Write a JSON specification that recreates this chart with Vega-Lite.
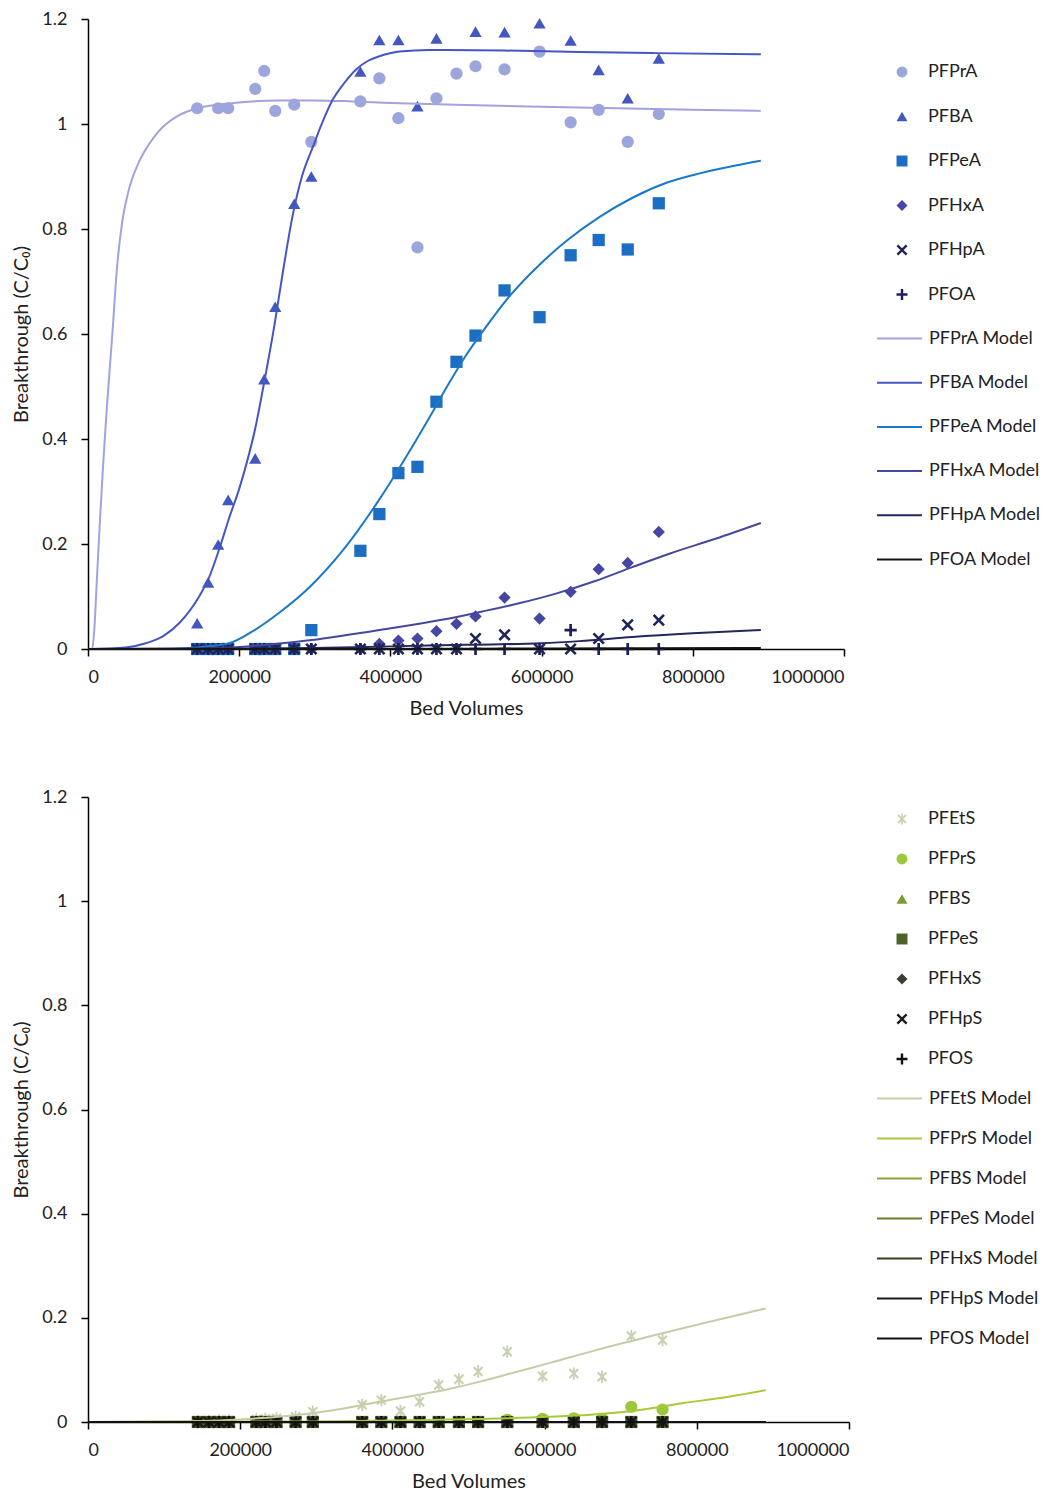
{
"$schema":"https://vega.github.io/schema/vega-lite/v6.json",
"background":"white",
"padding":{"left":11,"top":10,"right":5,"bottom":5},
"config":{"view":{"stroke":null},"font":"Lato",
"axis":{"domainColor":"#000","domainWidth":1.5,"tickColor":"#000","tickWidth":1.5,"tickSize":7,"grid":false,"labelFont":"Lato","labelFontSize":18,"labelColor":"#222","titleFont":"Lato","titleFontSize":20,"titleFontWeight":"normal","titleColor":"#222"},
"legend":{"labelFont":"Lato","labelFontSize":18,"labelColor":"#222","padding":0}},
"datasets":{
"pts":[
{"panel":"A","series":"PFPrA","bv":144400,"c":1.03},{"panel":"A","series":"PFPrA","bv":172200,"c":1.03},{"panel":"A","series":"PFPrA","bv":185400,"c":1.03},{"panel":"A","series":"PFPrA","bv":221200,"c":1.067},{"panel":"A","series":"PFPrA","bv":233100,"c":1.101},{"panel":"A","series":"PFPrA","bv":247700,"c":1.025},{"panel":"A","series":"PFPrA","bv":272800,"c":1.037},{"panel":"A","series":"PFPrA","bv":295400,"c":0.966},{"panel":"A","series":"PFPrA","bv":360300,"c":1.043},{"panel":"A","series":"PFPrA","bv":385400,"c":1.087},{"panel":"A","series":"PFPrA","bv":410600,"c":1.011},{"panel":"A","series":"PFPrA","bv":435800,"c":0.765},{"panel":"A","series":"PFPrA","bv":460900,"c":1.049},{"panel":"A","series":"PFPrA","bv":487400,"c":1.096},{"panel":"A","series":"PFPrA","bv":512600,"c":1.11},{"panel":"A","series":"PFPrA","bv":551000,"c":1.104},{"panel":"A","series":"PFPrA","bv":597300,"c":1.138},{"panel":"A","series":"PFPrA","bv":638400,"c":1.003},{"panel":"A","series":"PFPrA","bv":675500,"c":1.027},{"panel":"A","series":"PFPrA","bv":713900,"c":0.966},{"panel":"A","series":"PFPrA","bv":755000,"c":1.019},
{"panel":"A","series":"PFBA","bv":144400,"c":0.049},{"panel":"A","series":"PFBA","bv":158900,"c":0.127},{"panel":"A","series":"PFBA","bv":172200,"c":0.199},{"panel":"A","series":"PFBA","bv":185400,"c":0.284},{"panel":"A","series":"PFBA","bv":221200,"c":0.363},{"panel":"A","series":"PFBA","bv":233100,"c":0.514},{"panel":"A","series":"PFBA","bv":247700,"c":0.652},{"panel":"A","series":"PFBA","bv":272800,"c":0.848},{"panel":"A","series":"PFBA","bv":295400,"c":0.9},{"panel":"A","series":"PFBA","bv":360300,"c":1.1},{"panel":"A","series":"PFBA","bv":385400,"c":1.16},{"panel":"A","series":"PFBA","bv":410600,"c":1.16},{"panel":"A","series":"PFBA","bv":435800,"c":1.034},{"panel":"A","series":"PFBA","bv":460900,"c":1.163},{"panel":"A","series":"PFBA","bv":512600,"c":1.176},{"panel":"A","series":"PFBA","bv":551000,"c":1.175},{"panel":"A","series":"PFBA","bv":597300,"c":1.192},{"panel":"A","series":"PFBA","bv":638400,"c":1.159},{"panel":"A","series":"PFBA","bv":675500,"c":1.103},{"panel":"A","series":"PFBA","bv":713900,"c":1.049},{"panel":"A","series":"PFBA","bv":755000,"c":1.125},
{"panel":"A","series":"PFPeA","bv":144400,"c":0},{"panel":"A","series":"PFPeA","bv":158900,"c":0},{"panel":"A","series":"PFPeA","bv":172200,"c":0},{"panel":"A","series":"PFPeA","bv":185400,"c":0},{"panel":"A","series":"PFPeA","bv":221200,"c":0},{"panel":"A","series":"PFPeA","bv":233100,"c":0},{"panel":"A","series":"PFPeA","bv":247700,"c":0},{"panel":"A","series":"PFPeA","bv":272800,"c":0},{"panel":"A","series":"PFPeA","bv":295400,"c":0.036},{"panel":"A","series":"PFPeA","bv":360300,"c":0.187},{"panel":"A","series":"PFPeA","bv":385400,"c":0.257},{"panel":"A","series":"PFPeA","bv":410600,"c":0.335},{"panel":"A","series":"PFPeA","bv":435800,"c":0.347},{"panel":"A","series":"PFPeA","bv":460900,"c":0.471},{"panel":"A","series":"PFPeA","bv":487400,"c":0.547},{"panel":"A","series":"PFPeA","bv":512600,"c":0.597},{"panel":"A","series":"PFPeA","bv":551000,"c":0.683},{"panel":"A","series":"PFPeA","bv":597300,"c":0.632},{"panel":"A","series":"PFPeA","bv":638400,"c":0.75},{"panel":"A","series":"PFPeA","bv":675500,"c":0.779},{"panel":"A","series":"PFPeA","bv":713900,"c":0.761},{"panel":"A","series":"PFPeA","bv":755000,"c":0.849},
{"panel":"A","series":"PFHxA","bv":144400,"c":0},{"panel":"A","series":"PFHxA","bv":158900,"c":0},{"panel":"A","series":"PFHxA","bv":172200,"c":0},{"panel":"A","series":"PFHxA","bv":185400,"c":0},{"panel":"A","series":"PFHxA","bv":221200,"c":0},{"panel":"A","series":"PFHxA","bv":233100,"c":0},{"panel":"A","series":"PFHxA","bv":247700,"c":0},{"panel":"A","series":"PFHxA","bv":272800,"c":0},{"panel":"A","series":"PFHxA","bv":295400,"c":0},{"panel":"A","series":"PFHxA","bv":360300,"c":0},{"panel":"A","series":"PFHxA","bv":385400,"c":0.01},{"panel":"A","series":"PFHxA","bv":410600,"c":0.016},{"panel":"A","series":"PFHxA","bv":435800,"c":0.02},{"panel":"A","series":"PFHxA","bv":460900,"c":0.034},{"panel":"A","series":"PFHxA","bv":487400,"c":0.048},{"panel":"A","series":"PFHxA","bv":512600,"c":0.062},{"panel":"A","series":"PFHxA","bv":551000,"c":0.098},{"panel":"A","series":"PFHxA","bv":597300,"c":0.058},{"panel":"A","series":"PFHxA","bv":638400,"c":0.109},{"panel":"A","series":"PFHxA","bv":675500,"c":0.152},{"panel":"A","series":"PFHxA","bv":713900,"c":0.164},{"panel":"A","series":"PFHxA","bv":755000,"c":0.223},
{"panel":"A","series":"PFHpA","bv":144400,"c":0},{"panel":"A","series":"PFHpA","bv":158900,"c":0},{"panel":"A","series":"PFHpA","bv":172200,"c":0},{"panel":"A","series":"PFHpA","bv":185400,"c":0},{"panel":"A","series":"PFHpA","bv":221200,"c":0},{"panel":"A","series":"PFHpA","bv":233100,"c":0},{"panel":"A","series":"PFHpA","bv":247700,"c":0},{"panel":"A","series":"PFHpA","bv":272800,"c":0},{"panel":"A","series":"PFHpA","bv":295400,"c":0},{"panel":"A","series":"PFHpA","bv":360300,"c":0},{"panel":"A","series":"PFHpA","bv":385400,"c":0},{"panel":"A","series":"PFHpA","bv":410600,"c":0},{"panel":"A","series":"PFHpA","bv":435800,"c":0},{"panel":"A","series":"PFHpA","bv":460900,"c":0},{"panel":"A","series":"PFHpA","bv":487400,"c":0},{"panel":"A","series":"PFHpA","bv":512600,"c":0.02},{"panel":"A","series":"PFHpA","bv":551000,"c":0.027},{"panel":"A","series":"PFHpA","bv":597300,"c":0},{"panel":"A","series":"PFHpA","bv":638400,"c":0},{"panel":"A","series":"PFHpA","bv":675500,"c":0.02},{"panel":"A","series":"PFHpA","bv":713900,"c":0.046},{"panel":"A","series":"PFHpA","bv":755000,"c":0.055},
{"panel":"A","series":"PFOA","bv":144400,"c":0},{"panel":"A","series":"PFOA","bv":158900,"c":0},{"panel":"A","series":"PFOA","bv":172200,"c":0},{"panel":"A","series":"PFOA","bv":185400,"c":0},{"panel":"A","series":"PFOA","bv":221200,"c":0},{"panel":"A","series":"PFOA","bv":233100,"c":0},{"panel":"A","series":"PFOA","bv":247700,"c":0},{"panel":"A","series":"PFOA","bv":272800,"c":0},{"panel":"A","series":"PFOA","bv":295400,"c":0},{"panel":"A","series":"PFOA","bv":360300,"c":0},{"panel":"A","series":"PFOA","bv":385400,"c":0},{"panel":"A","series":"PFOA","bv":410600,"c":0},{"panel":"A","series":"PFOA","bv":435800,"c":0},{"panel":"A","series":"PFOA","bv":460900,"c":0},{"panel":"A","series":"PFOA","bv":487400,"c":0},{"panel":"A","series":"PFOA","bv":512600,"c":0},{"panel":"A","series":"PFOA","bv":551000,"c":0},{"panel":"A","series":"PFOA","bv":597300,"c":0},{"panel":"A","series":"PFOA","bv":638400,"c":0.036},{"panel":"A","series":"PFOA","bv":675500,"c":0},{"panel":"A","series":"PFOA","bv":713900,"c":0},{"panel":"A","series":"PFOA","bv":755000,"c":0},
{"panel":"B","series":"PFEtS","bv":144400,"c":0.002},{"panel":"B","series":"PFEtS","bv":158900,"c":0.002},{"panel":"B","series":"PFEtS","bv":172200,"c":0.003},{"panel":"B","series":"PFEtS","bv":185400,"c":0.003},{"panel":"B","series":"PFEtS","bv":221200,"c":0.005},{"panel":"B","series":"PFEtS","bv":233100,"c":0.006},{"panel":"B","series":"PFEtS","bv":247700,"c":0.007},{"panel":"B","series":"PFEtS","bv":272800,"c":0.01},{"panel":"B","series":"PFEtS","bv":295400,"c":0.02},{"panel":"B","series":"PFEtS","bv":360300,"c":0.033},{"panel":"B","series":"PFEtS","bv":385400,"c":0.042},{"panel":"B","series":"PFEtS","bv":410600,"c":0.021},{"panel":"B","series":"PFEtS","bv":435800,"c":0.039},{"panel":"B","series":"PFEtS","bv":460900,"c":0.071},{"panel":"B","series":"PFEtS","bv":487400,"c":0.082},{"panel":"B","series":"PFEtS","bv":512600,"c":0.097},{"panel":"B","series":"PFEtS","bv":551000,"c":0.135},{"panel":"B","series":"PFEtS","bv":597300,"c":0.088},{"panel":"B","series":"PFEtS","bv":638400,"c":0.093},{"panel":"B","series":"PFEtS","bv":675500,"c":0.087},{"panel":"B","series":"PFEtS","bv":713900,"c":0.165},{"panel":"B","series":"PFEtS","bv":755000,"c":0.157},
{"panel":"B","series":"PFPrS","bv":144400,"c":0},{"panel":"B","series":"PFPrS","bv":158900,"c":0},{"panel":"B","series":"PFPrS","bv":172200,"c":0},{"panel":"B","series":"PFPrS","bv":185400,"c":0},{"panel":"B","series":"PFPrS","bv":221200,"c":0},{"panel":"B","series":"PFPrS","bv":233100,"c":0},{"panel":"B","series":"PFPrS","bv":247700,"c":0},{"panel":"B","series":"PFPrS","bv":272800,"c":0},{"panel":"B","series":"PFPrS","bv":295400,"c":0},{"panel":"B","series":"PFPrS","bv":360300,"c":0},{"panel":"B","series":"PFPrS","bv":385400,"c":0},{"panel":"B","series":"PFPrS","bv":410600,"c":0},{"panel":"B","series":"PFPrS","bv":435800,"c":0},{"panel":"B","series":"PFPrS","bv":460900,"c":0},{"panel":"B","series":"PFPrS","bv":487400,"c":0},{"panel":"B","series":"PFPrS","bv":512600,"c":0},{"panel":"B","series":"PFPrS","bv":551000,"c":0.004},{"panel":"B","series":"PFPrS","bv":597300,"c":0.006},{"panel":"B","series":"PFPrS","bv":638400,"c":0.007},{"panel":"B","series":"PFPrS","bv":675500,"c":0.006},{"panel":"B","series":"PFPrS","bv":713900,"c":0.029},{"panel":"B","series":"PFPrS","bv":755000,"c":0.024},
{"panel":"B","series":"PFBS","bv":144400,"c":0},{"panel":"B","series":"PFBS","bv":158900,"c":0},{"panel":"B","series":"PFBS","bv":172200,"c":0},{"panel":"B","series":"PFBS","bv":185400,"c":0},{"panel":"B","series":"PFBS","bv":221200,"c":0},{"panel":"B","series":"PFBS","bv":233100,"c":0},{"panel":"B","series":"PFBS","bv":247700,"c":0},{"panel":"B","series":"PFBS","bv":272800,"c":0},{"panel":"B","series":"PFBS","bv":295400,"c":0},{"panel":"B","series":"PFBS","bv":360300,"c":0},{"panel":"B","series":"PFBS","bv":385400,"c":0},{"panel":"B","series":"PFBS","bv":410600,"c":0},{"panel":"B","series":"PFBS","bv":435800,"c":0},{"panel":"B","series":"PFBS","bv":460900,"c":0},{"panel":"B","series":"PFBS","bv":487400,"c":0},{"panel":"B","series":"PFBS","bv":512600,"c":0},{"panel":"B","series":"PFBS","bv":551000,"c":0},{"panel":"B","series":"PFBS","bv":597300,"c":0},{"panel":"B","series":"PFBS","bv":638400,"c":0},{"panel":"B","series":"PFBS","bv":675500,"c":0},{"panel":"B","series":"PFBS","bv":713900,"c":0},{"panel":"B","series":"PFBS","bv":755000,"c":0},
{"panel":"B","series":"PFPeS","bv":144400,"c":0},{"panel":"B","series":"PFPeS","bv":158900,"c":0},{"panel":"B","series":"PFPeS","bv":172200,"c":0},{"panel":"B","series":"PFPeS","bv":185400,"c":0},{"panel":"B","series":"PFPeS","bv":221200,"c":0},{"panel":"B","series":"PFPeS","bv":233100,"c":0},{"panel":"B","series":"PFPeS","bv":247700,"c":0},{"panel":"B","series":"PFPeS","bv":272800,"c":0},{"panel":"B","series":"PFPeS","bv":295400,"c":0},{"panel":"B","series":"PFPeS","bv":360300,"c":0},{"panel":"B","series":"PFPeS","bv":385400,"c":0},{"panel":"B","series":"PFPeS","bv":410600,"c":0},{"panel":"B","series":"PFPeS","bv":435800,"c":0},{"panel":"B","series":"PFPeS","bv":460900,"c":0},{"panel":"B","series":"PFPeS","bv":487400,"c":0},{"panel":"B","series":"PFPeS","bv":512600,"c":0},{"panel":"B","series":"PFPeS","bv":551000,"c":0},{"panel":"B","series":"PFPeS","bv":597300,"c":0},{"panel":"B","series":"PFPeS","bv":638400,"c":0},{"panel":"B","series":"PFPeS","bv":675500,"c":0},{"panel":"B","series":"PFPeS","bv":713900,"c":0},{"panel":"B","series":"PFPeS","bv":755000,"c":0},
{"panel":"B","series":"PFHxS","bv":144400,"c":0},{"panel":"B","series":"PFHxS","bv":158900,"c":0},{"panel":"B","series":"PFHxS","bv":172200,"c":0},{"panel":"B","series":"PFHxS","bv":185400,"c":0},{"panel":"B","series":"PFHxS","bv":221200,"c":0},{"panel":"B","series":"PFHxS","bv":233100,"c":0},{"panel":"B","series":"PFHxS","bv":247700,"c":0},{"panel":"B","series":"PFHxS","bv":272800,"c":0},{"panel":"B","series":"PFHxS","bv":295400,"c":0},{"panel":"B","series":"PFHxS","bv":360300,"c":0},{"panel":"B","series":"PFHxS","bv":385400,"c":0},{"panel":"B","series":"PFHxS","bv":410600,"c":0},{"panel":"B","series":"PFHxS","bv":435800,"c":0},{"panel":"B","series":"PFHxS","bv":460900,"c":0},{"panel":"B","series":"PFHxS","bv":487400,"c":0},{"panel":"B","series":"PFHxS","bv":512600,"c":0},{"panel":"B","series":"PFHxS","bv":551000,"c":0},{"panel":"B","series":"PFHxS","bv":597300,"c":0},{"panel":"B","series":"PFHxS","bv":638400,"c":0},{"panel":"B","series":"PFHxS","bv":675500,"c":0},{"panel":"B","series":"PFHxS","bv":713900,"c":0},{"panel":"B","series":"PFHxS","bv":755000,"c":0},
{"panel":"B","series":"PFHpS","bv":144400,"c":0},{"panel":"B","series":"PFHpS","bv":158900,"c":0},{"panel":"B","series":"PFHpS","bv":172200,"c":0},{"panel":"B","series":"PFHpS","bv":185400,"c":0},{"panel":"B","series":"PFHpS","bv":221200,"c":0},{"panel":"B","series":"PFHpS","bv":233100,"c":0},{"panel":"B","series":"PFHpS","bv":247700,"c":0},{"panel":"B","series":"PFHpS","bv":272800,"c":0},{"panel":"B","series":"PFHpS","bv":295400,"c":0},{"panel":"B","series":"PFHpS","bv":360300,"c":0},{"panel":"B","series":"PFHpS","bv":385400,"c":0},{"panel":"B","series":"PFHpS","bv":410600,"c":0},{"panel":"B","series":"PFHpS","bv":435800,"c":0},{"panel":"B","series":"PFHpS","bv":460900,"c":0},{"panel":"B","series":"PFHpS","bv":487400,"c":0},{"panel":"B","series":"PFHpS","bv":512600,"c":0},{"panel":"B","series":"PFHpS","bv":551000,"c":0},{"panel":"B","series":"PFHpS","bv":597300,"c":0},{"panel":"B","series":"PFHpS","bv":638400,"c":0},{"panel":"B","series":"PFHpS","bv":675500,"c":0},{"panel":"B","series":"PFHpS","bv":713900,"c":0},{"panel":"B","series":"PFHpS","bv":755000,"c":0},
{"panel":"B","series":"PFOS","bv":144400,"c":0},{"panel":"B","series":"PFOS","bv":158900,"c":0},{"panel":"B","series":"PFOS","bv":172200,"c":0},{"panel":"B","series":"PFOS","bv":185400,"c":0},{"panel":"B","series":"PFOS","bv":221200,"c":0},{"panel":"B","series":"PFOS","bv":233100,"c":0},{"panel":"B","series":"PFOS","bv":247700,"c":0},{"panel":"B","series":"PFOS","bv":272800,"c":0},{"panel":"B","series":"PFOS","bv":295400,"c":0},{"panel":"B","series":"PFOS","bv":360300,"c":0},{"panel":"B","series":"PFOS","bv":385400,"c":0},{"panel":"B","series":"PFOS","bv":410600,"c":0},{"panel":"B","series":"PFOS","bv":435800,"c":0},{"panel":"B","series":"PFOS","bv":460900,"c":0},{"panel":"B","series":"PFOS","bv":487400,"c":0},{"panel":"B","series":"PFOS","bv":512600,"c":0},{"panel":"B","series":"PFOS","bv":551000,"c":0},{"panel":"B","series":"PFOS","bv":597300,"c":0},{"panel":"B","series":"PFOS","bv":638400,"c":0},{"panel":"B","series":"PFOS","bv":675500,"c":0},{"panel":"B","series":"PFOS","bv":713900,"c":0},{"panel":"B","series":"PFOS","bv":755000,"c":0}
],
"mdl":[
{"panel":"A","model":"PFPrA Model","bv":0,"c":0},{"panel":"A","model":"PFPrA Model","bv":5300,"c":0},{"panel":"A","model":"PFPrA Model","bv":8000,"c":0.03},{"panel":"A","model":"PFPrA Model","bv":12000,"c":0.14},{"panel":"A","model":"PFPrA Model","bv":16000,"c":0.25},{"panel":"A","model":"PFPrA Model","bv":20000,"c":0.35},{"panel":"A","model":"PFPrA Model","bv":24000,"c":0.44},{"panel":"A","model":"PFPrA Model","bv":28000,"c":0.52},{"panel":"A","model":"PFPrA Model","bv":32200,"c":0.6},{"panel":"A","model":"PFPrA Model","bv":38000,"c":0.72},{"panel":"A","model":"PFPrA Model","bv":45400,"c":0.815},{"panel":"A","model":"PFPrA Model","bv":55000,"c":0.88},{"panel":"A","model":"PFPrA Model","bv":67500,"c":0.928},{"panel":"A","model":"PFPrA Model","bv":80000,"c":0.96},{"panel":"A","model":"PFPrA Model","bv":94000,"c":0.987},{"panel":"A","model":"PFPrA Model","bv":115000,"c":1.012},{"panel":"A","model":"PFPrA Model","bv":144400,"c":1.03},{"panel":"A","model":"PFPrA Model","bv":200000,"c":1.041},{"panel":"A","model":"PFPrA Model","bv":250000,"c":1.045},{"panel":"A","model":"PFPrA Model","bv":300000,"c":1.045},{"panel":"A","model":"PFPrA Model","bv":350000,"c":1.043},{"panel":"A","model":"PFPrA Model","bv":400000,"c":1.04},{"panel":"A","model":"PFPrA Model","bv":500000,"c":1.036},{"panel":"A","model":"PFPrA Model","bv":600000,"c":1.033},{"panel":"A","model":"PFPrA Model","bv":700000,"c":1.03},{"panel":"A","model":"PFPrA Model","bv":800000,"c":1.027},{"panel":"A","model":"PFPrA Model","bv":890000,"c":1.025},
{"panel":"A","model":"PFBA Model","bv":0,"c":0},{"panel":"A","model":"PFBA Model","bv":50000,"c":0.003},{"panel":"A","model":"PFBA Model","bv":76400,"c":0.011},{"panel":"A","model":"PFBA Model","bv":100000,"c":0.025},{"panel":"A","model":"PFBA Model","bv":120500,"c":0.049},{"panel":"A","model":"PFBA Model","bv":147000,"c":0.1},{"panel":"A","model":"PFBA Model","bv":160300,"c":0.137},{"panel":"A","model":"PFBA Model","bv":173500,"c":0.19},{"panel":"A","model":"PFBA Model","bv":186800,"c":0.25},{"panel":"A","model":"PFBA Model","bv":200000,"c":0.305},{"panel":"A","model":"PFBA Model","bv":210000,"c":0.355},{"panel":"A","model":"PFBA Model","bv":221200,"c":0.42},{"panel":"A","model":"PFBA Model","bv":232000,"c":0.5},{"panel":"A","model":"PFBA Model","bv":246400,"c":0.615},{"panel":"A","model":"PFBA Model","bv":258000,"c":0.72},{"panel":"A","model":"PFBA Model","bv":270600,"c":0.825},{"panel":"A","model":"PFBA Model","bv":283000,"c":0.9},{"panel":"A","model":"PFBA Model","bv":297100,"c":0.955},{"panel":"A","model":"PFBA Model","bv":310000,"c":1.003},{"panel":"A","model":"PFBA Model","bv":323600,"c":1.046},{"panel":"A","model":"PFBA Model","bv":340000,"c":1.08},{"panel":"A","model":"PFBA Model","bv":354600,"c":1.104},{"panel":"A","model":"PFBA Model","bv":370000,"c":1.12},{"panel":"A","model":"PFBA Model","bv":385400,"c":1.129},{"panel":"A","model":"PFBA Model","bv":411900,"c":1.138},{"panel":"A","model":"PFBA Model","bv":451700,"c":1.141},{"panel":"A","model":"PFBA Model","bv":550000,"c":1.14},{"panel":"A","model":"PFBA Model","bv":650000,"c":1.137},{"panel":"A","model":"PFBA Model","bv":750000,"c":1.135},{"panel":"A","model":"PFBA Model","bv":890000,"c":1.133},
{"panel":"A","model":"PFPeA Model","bv":0,"c":0},{"panel":"A","model":"PFPeA Model","bv":100000,"c":0},{"panel":"A","model":"PFPeA Model","bv":150000,"c":0.004},{"panel":"A","model":"PFPeA Model","bv":186800,"c":0.011},{"panel":"A","model":"PFPeA Model","bv":217000,"c":0.033},{"panel":"A","model":"PFPeA Model","bv":252000,"c":0.068},{"panel":"A","model":"PFPeA Model","bv":296000,"c":0.122},{"panel":"A","model":"PFPeA Model","bv":341000,"c":0.195},{"panel":"A","model":"PFPeA Model","bv":385400,"c":0.285},{"panel":"A","model":"PFPeA Model","bv":411000,"c":0.343},{"panel":"A","model":"PFPeA Model","bv":456000,"c":0.452},{"panel":"A","model":"PFPeA Model","bv":473800,"c":0.497},{"panel":"A","model":"PFPeA Model","bv":500300,"c":0.56},{"panel":"A","model":"PFPeA Model","bv":522200,"c":0.605},{"panel":"A","model":"PFPeA Model","bv":557600,"c":0.672},{"panel":"A","model":"PFPeA Model","bv":597300,"c":0.732},{"panel":"A","model":"PFPeA Model","bv":632700,"c":0.777},{"panel":"A","model":"PFPeA Model","bv":676800,"c":0.823},{"panel":"A","model":"PFPeA Model","bv":720900,"c":0.86},{"panel":"A","model":"PFPeA Model","bv":765200,"c":0.888},{"panel":"A","model":"PFPeA Model","bv":809300,"c":0.906},{"panel":"A","model":"PFPeA Model","bv":853400,"c":0.92},{"panel":"A","model":"PFPeA Model","bv":890000,"c":0.93},
{"panel":"A","model":"PFHxA Model","bv":0,"c":0},{"panel":"A","model":"PFHxA Model","bv":150000,"c":0.001},{"panel":"A","model":"PFHxA Model","bv":200000,"c":0.004},{"panel":"A","model":"PFHxA Model","bv":250000,"c":0.01},{"panel":"A","model":"PFHxA Model","bv":296000,"c":0.017},{"panel":"A","model":"PFHxA Model","bv":340000,"c":0.026},{"panel":"A","model":"PFHxA Model","bv":385400,"c":0.036},{"panel":"A","model":"PFHxA Model","bv":430000,"c":0.046},{"panel":"A","model":"PFHxA Model","bv":470000,"c":0.056},{"panel":"A","model":"PFHxA Model","bv":520000,"c":0.071},{"panel":"A","model":"PFHxA Model","bv":570000,"c":0.087},{"panel":"A","model":"PFHxA Model","bv":620000,"c":0.106},{"panel":"A","model":"PFHxA Model","bv":670000,"c":0.129},{"panel":"A","model":"PFHxA Model","bv":720000,"c":0.156},{"panel":"A","model":"PFHxA Model","bv":770000,"c":0.182},{"panel":"A","model":"PFHxA Model","bv":830000,"c":0.21},{"panel":"A","model":"PFHxA Model","bv":890000,"c":0.24},
{"panel":"A","model":"PFHpA Model","bv":0,"c":0},{"panel":"A","model":"PFHpA Model","bv":200000,"c":0.001},{"panel":"A","model":"PFHpA Model","bv":300000,"c":0.002},{"panel":"A","model":"PFHpA Model","bv":400000,"c":0.005},{"panel":"A","model":"PFHpA Model","bv":500000,"c":0.008},{"panel":"A","model":"PFHpA Model","bv":600000,"c":0.011},{"panel":"A","model":"PFHpA Model","bv":650000,"c":0.015},{"panel":"A","model":"PFHpA Model","bv":720000,"c":0.023},{"panel":"A","model":"PFHpA Model","bv":800000,"c":0.03},{"panel":"A","model":"PFHpA Model","bv":890000,"c":0.036},
{"panel":"A","model":"PFOA Model","bv":0,"c":0},{"panel":"A","model":"PFOA Model","bv":300000,"c":0},{"panel":"A","model":"PFOA Model","bv":600000,"c":0.001},{"panel":"A","model":"PFOA Model","bv":890000,"c":0.002},
{"panel":"B","model":"PFEtS Model","bv":0,"c":0},{"panel":"B","model":"PFEtS Model","bv":150000,"c":0.002},{"panel":"B","model":"PFEtS Model","bv":200000,"c":0.005},{"panel":"B","model":"PFEtS Model","bv":250000,"c":0.01},{"panel":"B","model":"PFEtS Model","bv":294300,"c":0.017},{"panel":"B","model":"PFEtS Model","bv":340000,"c":0.027},{"panel":"B","model":"PFEtS Model","bv":382400,"c":0.039},{"panel":"B","model":"PFEtS Model","bv":430000,"c":0.051},{"panel":"B","model":"PFEtS Model","bv":470000,"c":0.062},{"panel":"B","model":"PFEtS Model","bv":513800,"c":0.077},{"panel":"B","model":"PFEtS Model","bv":560000,"c":0.095},{"panel":"B","model":"PFEtS Model","bv":605800,"c":0.113},{"panel":"B","model":"PFEtS Model","bv":670000,"c":0.139},{"panel":"B","model":"PFEtS Model","bv":737200,"c":0.164},{"panel":"B","model":"PFEtS Model","bv":810000,"c":0.19},{"panel":"B","model":"PFEtS Model","bv":890500,"c":0.218},
{"panel":"B","model":"PFPrS Model","bv":0,"c":0},{"panel":"B","model":"PFPrS Model","bv":300000,"c":0.001},{"panel":"B","model":"PFPrS Model","bv":450000,"c":0.004},{"panel":"B","model":"PFPrS Model","bv":605800,"c":0.01},{"panel":"B","model":"PFPrS Model","bv":660000,"c":0.014},{"panel":"B","model":"PFPrS Model","bv":715200,"c":0.021},{"panel":"B","model":"PFPrS Model","bv":781000,"c":0.036},{"panel":"B","model":"PFPrS Model","bv":840000,"c":0.048},{"panel":"B","model":"PFPrS Model","bv":890500,"c":0.061},
{"panel":"B","model":"PFBS Model","bv":0,"c":0},{"panel":"B","model":"PFBS Model","bv":890500,"c":0},
{"panel":"B","model":"PFPeS Model","bv":0,"c":0},{"panel":"B","model":"PFPeS Model","bv":890500,"c":0},
{"panel":"B","model":"PFHxS Model","bv":0,"c":0},{"panel":"B","model":"PFHxS Model","bv":890500,"c":0},
{"panel":"B","model":"PFHpS Model","bv":0,"c":0},{"panel":"B","model":"PFHpS Model","bv":890500,"c":0},
{"panel":"B","model":"PFOS Model","bv":0,"c":0},{"panel":"B","model":"PFOS Model","bv":890500,"c":0}
]},
"spacing":70,
"resolve":{"scale":{"x":"independent","y":"independent","fill":"independent","shape":"independent","stroke":"independent"},"legend":{"fill":"independent","shape":"independent","stroke":"independent"}},
"vconcat":[
{"width":756,"height":630,
"layer":[
{"data":{"name":"pts"},"transform":[{"filter":"datum.panel === 'A'"}],
"mark":{"type":"point","filled":true,"size":150,"opacity":1,"strokeWidth":0},
"encoding":{
"x":{"field":"bv","type":"quantitative","scale":{"domain":[0,1000000],"nice":false},"axis":{"values":[0,200000,400000,600000,800000,1000000],"format":"d","title":"Bed Volumes","labelPadding":12,"titlePadding":12}},
"y":{"field":"c","type":"quantitative","scale":{"domain":[0,1.2],"nice":false},"axis":{"values":[0,0.2,0.4,0.6,0.8,1,1.2],"format":"~g","title":"Breakthrough (C/C₀)","labelPadding":14,"titlePadding":10}},
"fill":{"field":"series","type":"nominal","scale":{"domain":["PFPrA","PFBA","PFPeA","PFHxA","PFHpA","PFOA"],"range":["#9AA6DC","#4257BF","#1B6EC2","#4646A3","#1E2557","#1C1F5C"]},"legend":{"orient":"none","legendX":788,"legendY":44,"title":null,"symbolSize":120,"symbolStrokeWidth":0,"symbolOffset":17,"labelOffset":17,"rowPadding":26.5}},
"shape":{"field":"series","type":"nominal","scale":{"domain":["PFPrA","PFBA","PFPeA","PFHxA","PFHpA","PFOA"],"range":["circle","triangle-up","square","diamond","M-1,-0.7L-0.7,-1L0,-0.3L0.7,-1L1,-0.7L0.3,0L1,0.7L0.7,1L0,0.3L-0.7,1L-1,0.7L-0.3,0Z","M-1,-0.22H-0.22V-1H0.22V-0.22H1V0.22H0.22V1H-0.22V0.22H-1Z"]},"legend":{"orient":"none","legendX":788,"legendY":44,"title":null,"symbolSize":120,"symbolStrokeWidth":0,"symbolOffset":17,"labelOffset":17,"rowPadding":26.5}}
}},
{"data":{"name":"mdl"},"transform":[{"filter":"datum.panel === 'A'"}],
"mark":{"type":"line","strokeWidth":2,"interpolate":"monotone"},
"encoding":{
"x":{"field":"bv","type":"quantitative"},
"y":{"field":"c","type":"quantitative"},
"stroke":{"field":"model","type":"nominal","scale":{"domain":["PFPrA Model","PFBA Model","PFPeA Model","PFHxA Model","PFHpA Model","PFOA Model"],"range":["#A2A3DE","#4556C4","#1C78C8","#47479F","#23275C","#151515"]},"legend":{"orient":"none","legendX":788,"legendY":296,"title":null,"symbolType":"stroke","symbolSize":2025,"symbolStrokeWidth":2,"labelOffset":6,"rowPadding":11.2}}
}}
]},
{"width":761,"height":625,
"layer":[
{"data":{"name":"pts"},"transform":[{"filter":"datum.panel === 'B'"}],
"mark":{"type":"point","filled":true,"size":150,"opacity":1,"strokeWidth":0},
"encoding":{
"x":{"field":"bv","type":"quantitative","scale":{"domain":[0,1000000],"nice":false},"axis":{"values":[0,200000,400000,600000,800000,1000000],"format":"d","title":"Bed Volumes","labelPadding":12,"titlePadding":12}},
"y":{"field":"c","type":"quantitative","scale":{"domain":[0,1.2],"nice":false},"axis":{"values":[0,0.2,0.4,0.6,0.8,1,1.2],"format":"~g","title":"Breakthrough (C/C₀)","labelPadding":14,"titlePadding":10}},
"fill":{"field":"series","type":"nominal","scale":{"domain":["PFEtS","PFPrS","PFBS","PFPeS","PFHxS","PFHpS","PFOS"],"range":["#C8D2B2","#9CC83C","#7A9A34","#506229","#3A3F36","#1A1A1A","#111111"]},"legend":{"orient":"none","legendX":788,"legendY":13,"title":null,"symbolSize":120,"symbolStrokeWidth":0,"symbolOffset":17,"labelOffset":17,"rowPadding":22}},
"shape":{"field":"series","type":"nominal","scale":{"domain":["PFEtS","PFPrS","PFBS","PFPeS","PFHxS","PFHpS","PFOS"],"range":["M-0.85,-0.6L-0.6,-0.85L0,-0.25L0.6,-0.85L0.85,-0.6L0.25,0L0.85,0.6L0.6,0.85L0,0.25L-0.6,0.85L-0.85,0.6L-0.25,0ZM-0.15,-1H0.15V1H-0.15Z","circle","triangle-up","square","diamond","M-1,-0.7L-0.7,-1L0,-0.3L0.7,-1L1,-0.7L0.3,0L1,0.7L0.7,1L0,0.3L-0.7,1L-1,0.7L-0.3,0Z","M-1,-0.22H-0.22V-1H0.22V-0.22H1V0.22H0.22V1H-0.22V0.22H-1Z"]},"legend":{"orient":"none","legendX":788,"legendY":13,"title":null,"symbolSize":120,"symbolStrokeWidth":0,"symbolOffset":17,"labelOffset":17,"rowPadding":22}}
}},
{"data":{"name":"mdl"},"transform":[{"filter":"datum.panel === 'B'"}],
"mark":{"type":"line","strokeWidth":2,"interpolate":"monotone"},
"encoding":{
"x":{"field":"bv","type":"quantitative"},
"y":{"field":"c","type":"quantitative"},
"stroke":{"field":"model","type":"nominal","scale":{"domain":["PFEtS Model","PFPrS Model","PFBS Model","PFPeS Model","PFHxS Model","PFHpS Model","PFOS Model"],"range":["#C5CDA8","#A8CA3A","#8BA532","#6C7C30","#353F22","#1A1A1A","#111111"]},"legend":{"orient":"none","legendX":788,"legendY":278,"title":null,"symbolType":"stroke","symbolSize":2025,"symbolStrokeWidth":2,"labelOffset":6,"rowPadding":7}}
}}
]}
]
}
